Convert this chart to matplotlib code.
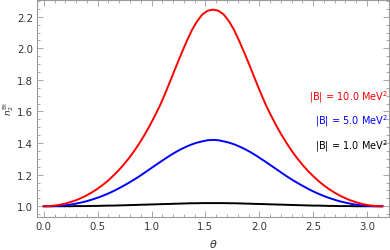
import numpy as np
import matplotlib
matplotlib.use('Agg')
import matplotlib.pyplot as plt
from matplotlib.ticker import MultipleLocator, FormatStrFormatter

# sample points in theta (0..pi, step pi/64)
theta = np.linspace(0, np.pi, 65)

# values
n_B10 = [1.000, 1.001, 1.004, 1.009, 1.016, 1.026, 1.037, 1.051, 1.067, 1.086,
         1.107, 1.131, 1.158, 1.189, 1.222, 1.259, 1.300, 1.345, 1.395, 1.449,
         1.508, 1.572, 1.640, 1.718, 1.800, 1.884, 1.965, 2.043, 2.115, 2.172,
         2.215, 2.238, 2.245, 2.238, 2.215, 2.172, 2.115, 2.043, 1.965, 1.884,
         1.800, 1.718, 1.640, 1.572, 1.508, 1.449, 1.395, 1.345, 1.300, 1.259,
         1.222, 1.189, 1.158, 1.131, 1.107, 1.086, 1.067, 1.051, 1.037, 1.026,
         1.016, 1.009, 1.004, 1.001, 1.000]
n_B5 = [1.000, 1.000, 1.001, 1.003, 1.006, 1.010, 1.016, 1.023, 1.031, 1.041,
        1.052, 1.064, 1.078, 1.093, 1.110, 1.128, 1.147, 1.167, 1.188, 1.211,
        1.234, 1.257, 1.280, 1.302, 1.324, 1.344, 1.362, 1.378, 1.392, 1.403,
        1.411, 1.418, 1.420, 1.418, 1.411, 1.403, 1.392, 1.378, 1.362, 1.344,
        1.324, 1.302, 1.280, 1.257, 1.234, 1.211, 1.188, 1.167, 1.147, 1.128,
        1.110, 1.093, 1.078, 1.064, 1.052, 1.041, 1.031, 1.023, 1.016, 1.010,
        1.006, 1.003, 1.001, 1.000, 1.000]
n_B1 = [1.000, 1.000, 1.000, 1.000, 1.000, 1.000, 1.001, 1.001, 1.001, 1.002,
        1.002, 1.003, 1.004, 1.004, 1.005, 1.006, 1.007, 1.008, 1.009, 1.010,
        1.011, 1.012, 1.013, 1.014, 1.015, 1.016, 1.017, 1.018, 1.019, 1.019,
        1.020, 1.020, 1.020, 1.020, 1.020, 1.019, 1.019, 1.018, 1.017, 1.016,
        1.015, 1.014, 1.013, 1.012, 1.011, 1.010, 1.009, 1.008, 1.007, 1.006,
        1.005, 1.004, 1.004, 1.003, 1.002, 1.002, 1.001, 1.001, 1.001, 1.000,
        1.000, 1.000, 1.000, 1.000, 1.000]

labels = ['|B| = 10.0 MeV$^2$', '|B| = 5.0 MeV$^2$', '|B| = 1.0 MeV$^2$']
colors = ['#ff0000', '#0000ff', '#000000']

fig = plt.figure(figsize=(3.9, 2.51), dpi=100)
ax = fig.add_axes([37 / 390, 1 - 218.3 / 251, (389 - 37) / 390, 217.8 / 251])

# black first so red ends up on top
ax.plot(theta, n_B1, color=colors[2], lw=1.4, solid_joinstyle='round')
ax.plot(theta, n_B5, color=colors[1], lw=1.4, solid_joinstyle='round')
ax.plot(theta, n_B10, color=colors[0], lw=1.4, solid_joinstyle='round')

ax.set_xlim(-0.063, 3.204)
ax.set_ylim(0.930, 2.309)

# mathematica-like frame
frame_col = '#9a9a9a'
for s in ax.spines.values():
    s.set_color(frame_col)
    s.set_linewidth(0.8)
ax.xaxis.set_major_locator(MultipleLocator(0.5))
ax.xaxis.set_minor_locator(MultipleLocator(0.1))
ax.yaxis.set_major_locator(MultipleLocator(0.2))
ax.yaxis.set_minor_locator(MultipleLocator(0.05))
ax.tick_params(which='both', direction='in', top=True, right=True, color=frame_col,
               labelsize=7.3, labelcolor='#333333', width=0.6)
ax.tick_params(which='major', length=4, pad=3)
ax.tick_params(which='minor', length=2)
ax.xaxis.set_major_formatter(FormatStrFormatter('%.1f'))
ax.yaxis.set_major_formatter(FormatStrFormatter('%.1f'))

ax.set_xlabel(r'$\theta$', fontsize=8, color='#333333', labelpad=4)
ax.set_ylabel(r'$n_2^{\mathrm{BI}}$', fontsize=6.5, color='#333333')
ax.yaxis.set_label_coords(-0.06, 0.5)

# labels on the right
for lab, c, yv in zip(labels, colors, [1.70, 1.545, 1.39]):
    ax.text(3.195, yv, lab, color=c, fontsize=7, ha='right', va='center')

fig.savefig('out.png', dpi=100)
